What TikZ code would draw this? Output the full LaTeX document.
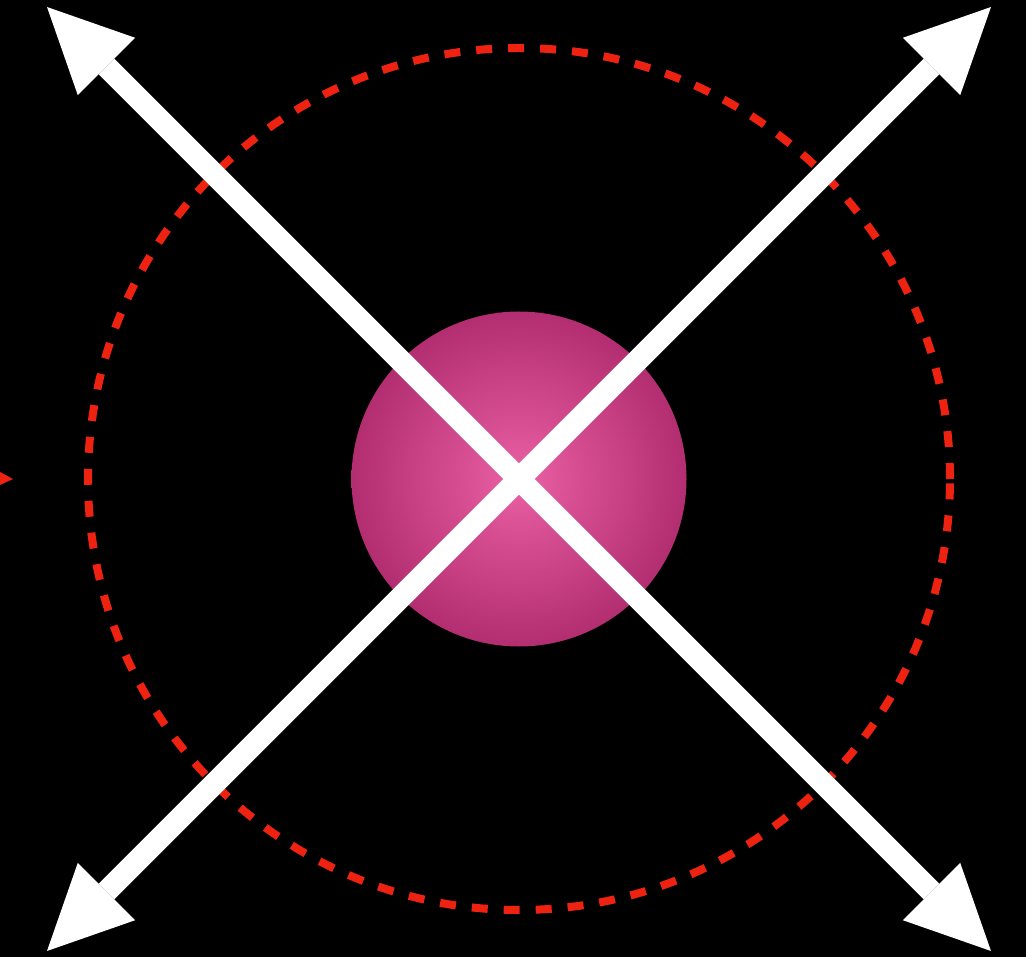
\documentclass[tikz,border=0pt]{standalone}
\usepackage{tikz}
\usetikzlibrary{arrows.meta,shapes.geometric}

\definecolor{orbin}{RGB}{234,96,164}
\definecolor{orbout}{RGB}{178,46,112}
\definecolor{ringred}{RGB}{238,34,16}
\pgfdeclareradialshading{orbshade}{\pgfpoint{0bp}{0bp}}{%
  color(0bp)=(orbin); color(25bp)=(orbout); color(50bp)=(orbout)}

\begin{document}
\begin{tikzpicture}[
  x=1pt, y=-1pt,
  orb/.style ={circle, draw=none, shading=orbshade, minimum size=335pt, inner sep=0pt},
  ring/.style={circle, draw=ringred, line width=8pt, dash pattern=on 16pt off 16pt,
    minimum size=862pt, inner sep=0pt},
  axis/.style={{Triangle[length=84pt,width=81pt,line width=0pt]}-{Triangle[length=84pt,width=81pt,line width=0pt]},
    draw=white, fill=white, line width=22pt}
]

% =================== BACKGROUND ===================
\fill[black] (0,0) rectangle (1026,957);
\useasboundingbox (0,0) rectangle (1026,957);

% =================== CENTRE + CORNERS ===================
\coordinate (c)  at (519,479);
\coordinate (tl) at (47,7);
\coordinate (tr) at (991,7);
\coordinate (bl) at (47,951);
\coordinate (br) at (991,951);

% =================== RING + SPHERE ===================
\node[ring] (ring) at (c) {};
\node[orb]  (ball) at (c) {};

% small marker on the left edge
\coordinate (m1) at (0,472);
\coordinate (m2) at (13,479);
\coordinate (m3) at (0,485);
\fill[ringred] (m1) -- (m2) -- (m3) -- cycle;

% =================== ARROWS ===================
\draw[axis] (tl) -- (br);
\draw[axis] (bl) -- (tr);

\end{tikzpicture}
\end{document}
